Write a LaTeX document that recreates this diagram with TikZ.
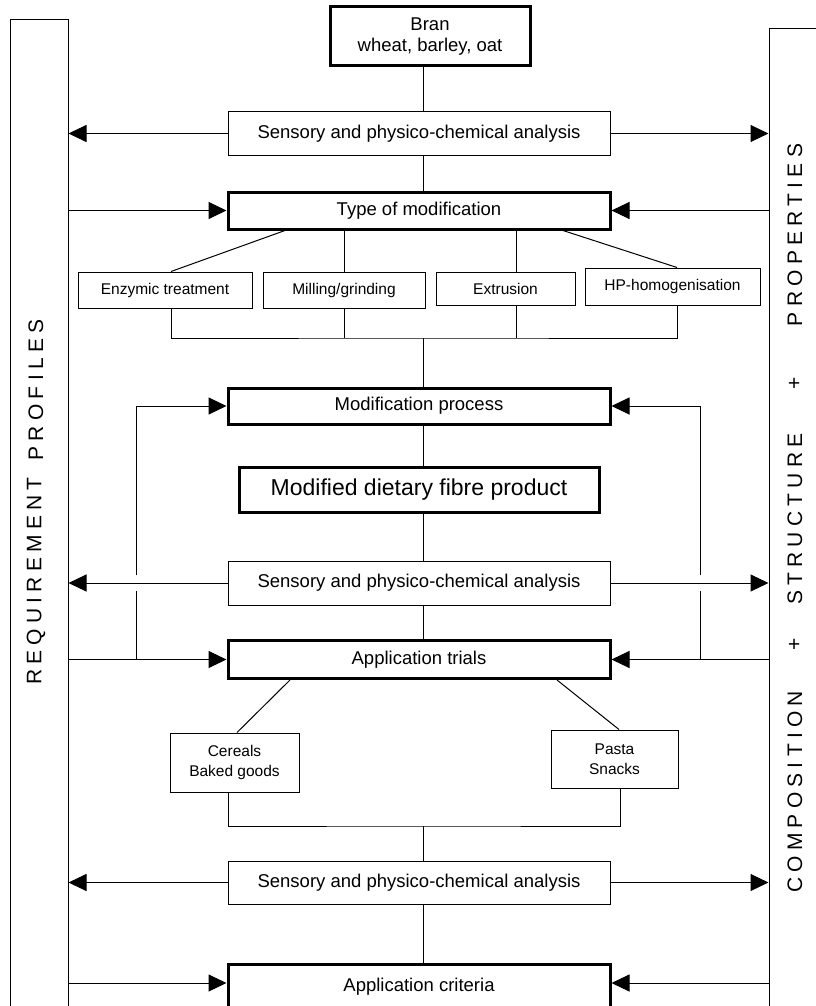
\documentclass[tikz,border=0pt]{standalone}
\usepackage{fontspec}
\setmainfont{Liberation Sans}
\newfontfamily\barfont[LetterSpace=25]{Liberation Sans}
\usetikzlibrary{arrows.meta,calc}

\tikzstyle{plain-box}=[draw, line width=1pt, inner sep=0pt, align=center, font=\fontsize{18.5}{21}\selectfont]
\tikzstyle{bold-box}=[plain-box, line width=3pt]
\tikzstyle{small-box}=[plain-box, font=\fontsize{15.5}{20}\selectfont]
\tikzstyle{side-bar}=[draw, line width=1pt, anchor=north, minimum height=1000pt]
\tikzstyle{side-text}=[rotate=90, inner sep=0pt, font={\barfont\fontsize{21}{25}\selectfont}]
\tikzstyle{link}=[line width=1pt]
\tikzstyle{feed}=[link, -{Triangle[length=18pt, width=17pt]}]

\begin{document}
\begin{tikzpicture}[x=1pt, y=-1pt]
  \useasboundingbox (0, 0) rectangle (816, 1006);
  \clip (0, 0) rectangle (816, 1006);

  \node (lbar) at (39, 19) [side-bar, minimum width=58pt] {};
  \node (rbar) at (800, 28) [side-bar, minimum width=62pt] {};

  \node (left-word2) at (36, 390) [side-text] {PROFILES};
  \node (left-word1) at (36, 581) [side-text] {REQUIREMENT};
  \node (right-word3) at (795, 235) [side-text] {PROPERTIES};
  \node (right-plus2) at (795, 383) [side-text] {+};
  \node (right-word2) at (795, 519) [side-text] {STRUCTURE};
  \node (right-plus1) at (795, 644) [side-text] {+};
  \node (right-word1) at (795, 792) [side-text] {COMPOSITION};

  \coordinate (spine) at (423, 0);
  \coordinate (loop-l) at (136, 0);
  \coordinate (loop-r) at (700, 0);
  \coordinate (join1) at (423, 338);
  \coordinate (join2) at (423, 826);

  \node (bran) at (430, 36.5)
        [bold-box, minimum width=200pt, minimum height=59pt] {Bran\\wheat, barley, oat};
  \node (sens1) at (419, 133.5)
        [plain-box, minimum width=382pt, minimum height=43pt] {Sensory and physico-chemical analysis};
  \node (typ) at (419, 210.5)
        [bold-box, minimum width=382pt, minimum height=37pt] {Type of modification};
  \node (enz) at (165, 290)
        [small-box, minimum width=174pt, minimum height=36pt] {Enzymic treatment};
  \node (mill) at (344, 290)
        [small-box, minimum width=162pt, minimum height=36pt] {Milling/grinding};
  \node (extr) at (505.5, 288.5)
        [small-box, minimum width=139pt, minimum height=33pt] {Extrusion};
  \node (hp) at (672.5, 286.5)
        [small-box, minimum width=175pt, minimum height=37pt] {HP-homogenisation};
  \node (modproc) at (419, 406)
        [bold-box, minimum width=382pt, minimum height=36pt] {Modification process};
  \node (product) at (419, 489.5)
        [bold-box, minimum width=360pt, minimum height=45pt, font=\fontsize{23}{27}\selectfont] {Modified dietary fibre product};
  \node (sens2) at (419, 583)
        [plain-box, minimum width=382pt, minimum height=44pt] {Sensory and physico-chemical analysis};
  \node (trials) at (419, 659.5)
        [bold-box, minimum width=382pt, minimum height=38pt] {Application trials};
  \node (cereals) at (234.5, 762.5)
        [small-box, minimum width=129pt, minimum height=59pt] {Cereals\\Baked goods};
  \node (pasta) at (614.5, 759)
        [small-box, minimum width=127pt, minimum height=58pt] {Pasta\\Snacks};
  \node (sens3) at (419, 882.5)
        [plain-box, minimum width=382pt, minimum height=43pt] {Sensory and physico-chemical analysis};
  \node (crit) at (419, 963)
        [bold-box, anchor=north, minimum width=382pt, minimum height=86pt, text height=13pt, text depth=46pt] {Application criteria};
  \coordinate (crit-row) at ($(crit.north)+(0, 20)$);

  \draw[link] (bran.south -| spine) -- (sens1.north -| spine);
  \draw[link] (sens1.south -| spine) -- (typ.north -| spine);
  \draw[link] ($(enz.north)+(6, 0)$) -- ($(typ.south)+(-134, 0)$);
  \draw[link] (mill.north) -- (mill.north |- typ.south);
  \draw[link] ($(extr.north)+(10.5, 0)$) -- ($(extr.north |- typ.south)+(10.5, 0)$);
  \draw[link] ($(hp.north)+(4.5, 0)$) -- ($(typ.south)+(144, 0)$);
  \draw[link] ($(enz.south)+(6, 0)$) |- (join1) -| ($(hp.south)+(4.5, 0)$);
  \draw[link] (mill.south) -- (mill.south |- join1);
  \draw[link] ($(extr.south)+(10.5, 0)$) -- ($(extr.south |- join1)+(10.5, 0)$);
  \draw[link] (join1) -- (join1 |- modproc.north);
  \draw[link] (modproc.south -| spine) -- (product.north -| spine);
  \draw[link] (product.south -| spine) -- (sens2.north -| spine);
  \draw[link] (sens2.south -| spine) -- (trials.north -| spine);
  \draw[link] ($(trials.south)+(-129, 0)$) -- ($(cereals.north)+(2.5, 0)$);
  \draw[link] ($(trials.south)+(138, 0)$) -- ($(pasta.north)+(4.5, 0)$);
  \draw[link] ($(cereals.south)+(-6.5, 0)$) |- (join2) -| ($(pasta.south)+(5.5, 0)$);
  \draw[link] (join2) -- (join2 |- sens3.north);
  \draw[link] (sens3.south -| spine) -- (crit.north -| spine);

  \draw[feed] (sens1.west) -- (sens1.west -| lbar.east);
  \draw[feed] (sens1.east) -- (sens1.east -| rbar.west);
  \draw[feed] (typ.west -| lbar.east) -- (typ.west);
  \draw[feed] (typ.east -| rbar.west) -- (typ.east);
  \draw[feed] (sens2.west) -- (sens2.west -| lbar.east);
  \draw[feed] (sens2.east) -- (sens2.east -| rbar.west);
  \draw[feed] (trials.west -| lbar.east) -- (trials.west);
  \draw[feed] (trials.east -| rbar.west) -- (trials.east);
  \draw[feed] (sens3.west) -- (sens3.west -| lbar.east);
  \draw[feed] (sens3.east) -- (sens3.east -| rbar.west);
  \draw[feed] (crit-row -| lbar.east) -- (crit-row -| crit.west);
  \draw[feed] (crit-row -| rbar.west) -- (crit-row -| crit.east);

  \draw[link] (loop-l |- trials.west) -- ($(loop-l |- sens2.west)+(0, 8)$);
  \draw[feed] ($(loop-l |- sens2.west)+(0, -8)$) |- (modproc.west);
  \draw[link] (loop-r |- trials.east) -- ($(loop-r |- sens2.east)+(0, 8)$);
  \draw[feed] ($(loop-r |- sens2.east)+(0, -8)$) |- (modproc.east);
\end{tikzpicture}
\end{document}
